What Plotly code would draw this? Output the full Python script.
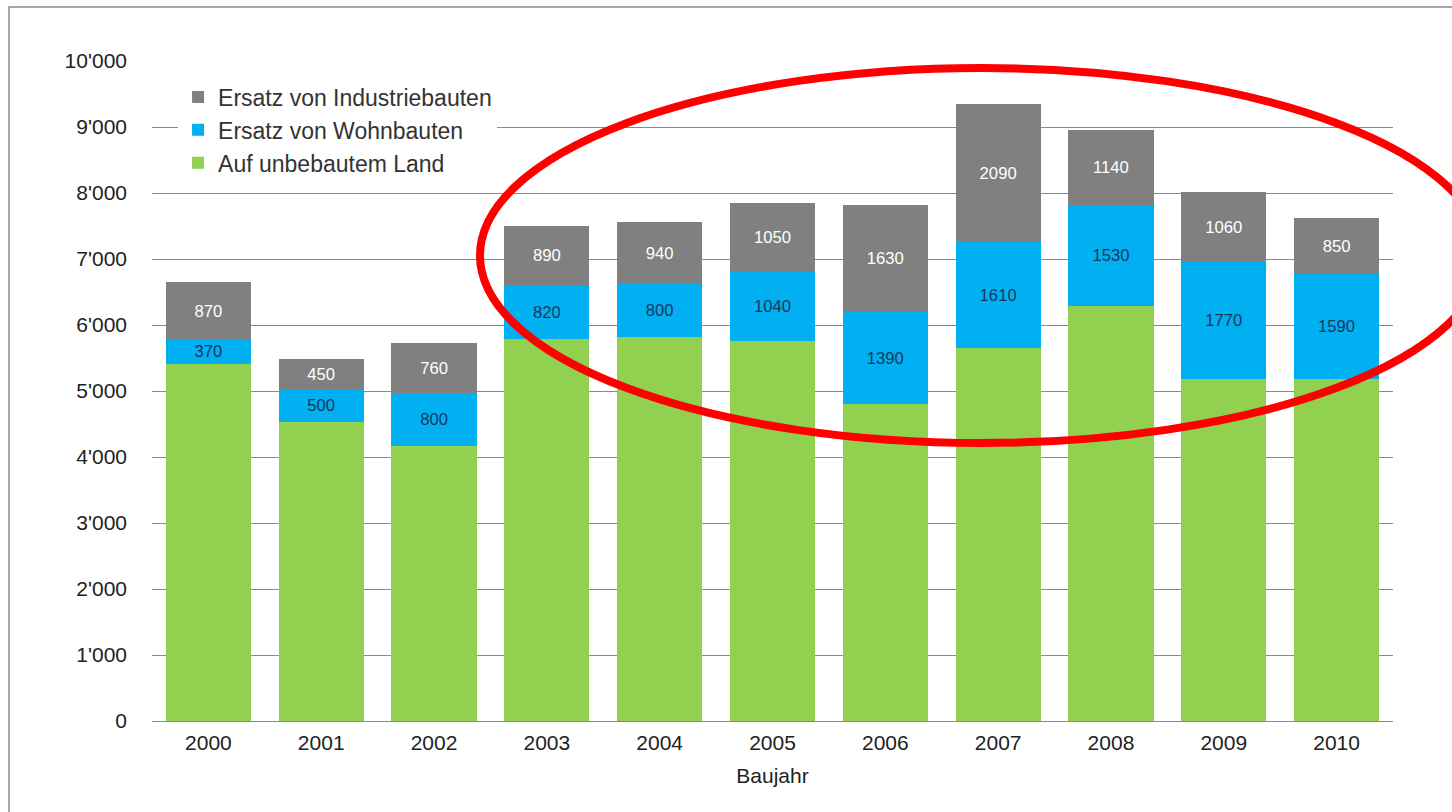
import plotly.graph_objects as go

years = ["2000", "2001", "2002", "2003", "2004", "2005", "2006", "2007", "2008", "2009", "2010"]
unbebaut = [5410, 4530, 4170, 5790, 5820, 5760, 4800, 5650, 6290, 5180, 5180]
wohnbauten = [370, 500, 800, 820, 800, 1040, 1390, 1610, 1530, 1770, 1590]
industrie = [870, 450, 760, 890, 940, 1050, 1630, 2090, 1140, 1060, 850]

names = ["Auf unbebautem Land", "Ersatz von Wohnbauten", "Ersatz von Industriebauten"]
colors = ["#92D050", "#00B0F0", "#808080"]
label_colors = [None, "#17375E", "#FFFFFF"]

font_family = "Liberation Sans, Arial, sans-serif"

fig = go.Figure()
for i, (name, vals) in enumerate(zip(names, [unbebaut, wohnbauten, industrie])):
    kw = {}
    if label_colors[i] is not None:
        kw = dict(text=[str(v) for v in vals], textposition="inside",
                  insidetextanchor="middle",
                  textfont=dict(color=label_colors[i], size=19, family=font_family))
    fig.add_trace(go.Bar(x=years, y=vals, name=name, marker=dict(color=colors[i], line=dict(width=0)),
                         hoverinfo="skip", **kw))

fig.update_layout(
    width=1452, height=812,
    barmode="stack", bargap=0.245,
    separators=".'",
    paper_bgcolor="white", plot_bgcolor="white",
    margin=dict(l=152, r=59, t=61, b=91),
    font=dict(family=font_family, size=21, color="#222222"),
    uniformtext=dict(mode="show", minsize=10),
    legend=dict(x=0.021, y=0.978, xanchor="left", yanchor="top", traceorder="reversed",
                bgcolor="white", font=dict(size=23, color="#333333"),
                itemwidth=30, tracegroupgap=0),
    xaxis=dict(showgrid=False, showline=False, ticks="", tickfont=dict(size=21),
               ticklabelstandoff=7,
               title=dict(text="Baujahr", font=dict(size=21), standoff=15)),
    yaxis=dict(range=[0, 10000], dtick=1000, tickformat=",d", showgrid=True,
               gridcolor="#8A8A8A", gridwidth=1, zeroline=True, zerolinecolor="#8A8A8A",
               zerolinewidth=1, showline=False, ticks="", ticklabelstandoff=24,
               tickfont=dict(size=21)),
    shapes=[
        dict(type="rect", xref="paper", yref="paper", x0=-0.1152, x1=1.1, y0=-0.2, y1=1.0818,
             line=dict(color="#8A8A8A", width=1.5), fillcolor="rgba(0,0,0,0)", layer="below"),
        dict(type="circle", xref="paper", yref="paper", x0=0.2643, x1=1.0725, y0=0.4212, y1=0.9894,
             line=dict(color="#FF0000", width=8), fillcolor="rgba(0,0,0,0)", layer="above"),
    ],
)

fig.write_html("out.html", config={"displayModeBar": False},
               post_script="document.body.style.margin='0';document.body.style.overflow='hidden';")
